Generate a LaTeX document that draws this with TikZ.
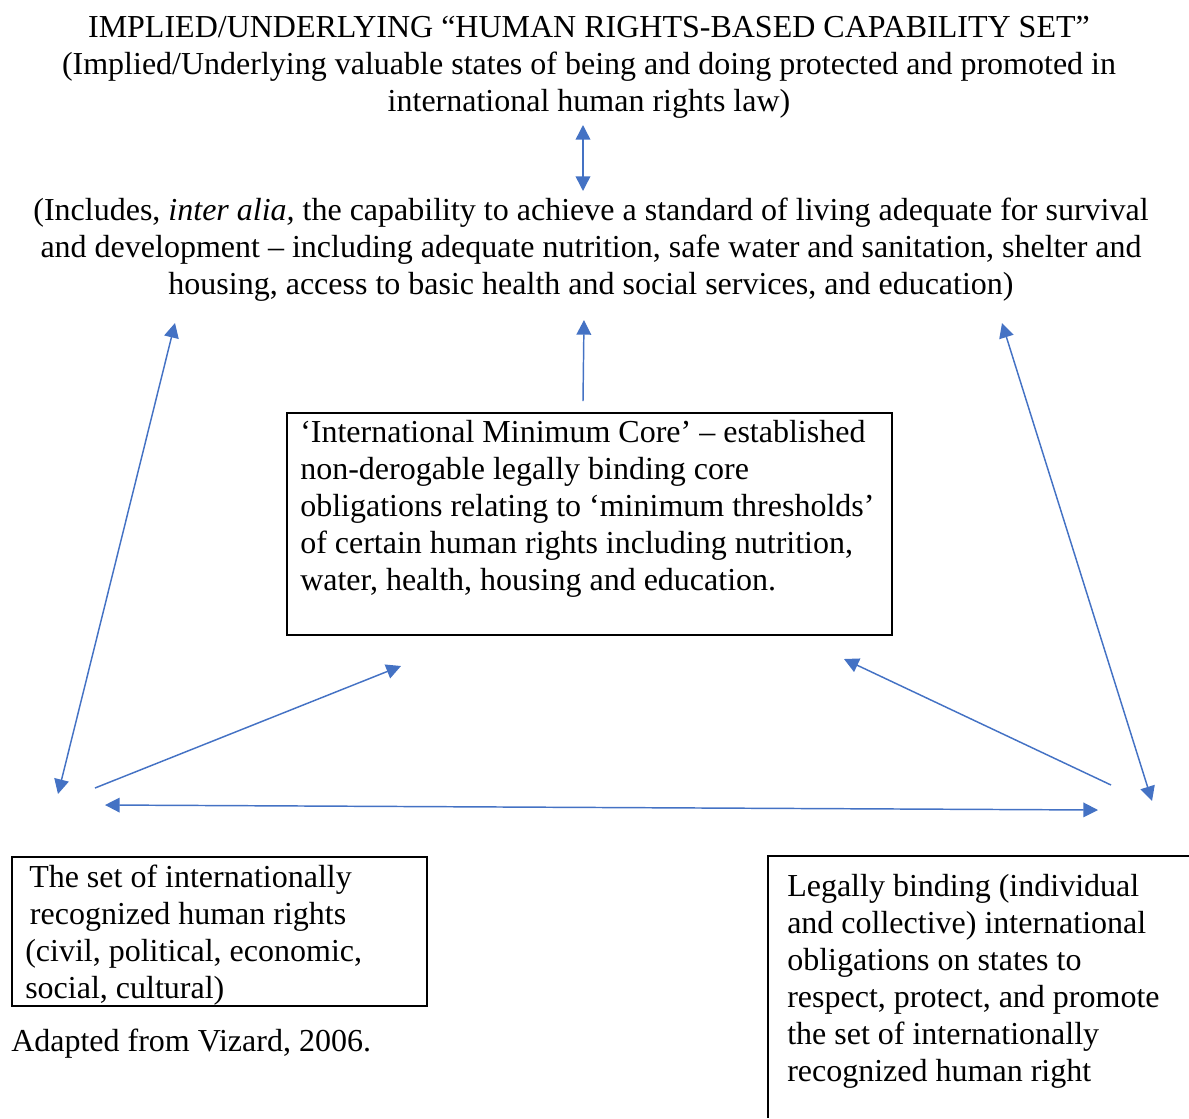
\documentclass[tikz,border=0pt]{standalone}
\usepackage{fontspec}
\setmainfont{Liberation Serif}
\usetikzlibrary{arrows.meta}
\definecolor{linkblue}{HTML}{4472C4}
\begin{document}
\begin{tikzpicture}[x=0.75pt,y=-0.75pt,
  txt/.style={inner sep=0pt, font=\fontsize{24pt}{27.75pt}\selectfont},
  boxframe/.style={draw=black, line width=1.5pt, inner sep=0pt},
  conn/.style={draw=linkblue, line width=1.1pt},
  oneway/.style={conn, -{Triangle[length=11pt,width=11pt]}},
  twoway/.style={conn, {Triangle[length=11pt,width=11pt]}-{Triangle[length=11pt,width=11pt]}}]
\useasboundingbox (0,0) rectangle (1189,1118);

% heading
\node[txt, align=center, anchor=north] (head) at (589,16)
  {IMPLIED/UNDERLYING “HUMAN RIGHTS-BASED CAPABILITY SET”\\
   (Implied/Underlying valuable states of being and doing protected and promoted in\\
   international human rights law)};

% capability description
\node[txt, align=center, anchor=north] (cap) at (591,198)
  {(Includes, \textit{inter alia,} the capability to achieve a standard of living adequate for survival\\
   and development -- including adequate nutrition, safe water and sanitation, shelter and\\
   housing, access to basic health and social services, and education)};

% minimum core box
\node[boxframe, anchor=north west, minimum width=453.75pt, minimum height=166.5pt] (core) at (286,412) {};
\node[txt, align=left, anchor=north west] (coretext) at (300,420)
  {‘International Minimum Core’ -- established\\
   non-derogable legally binding core\\
   obligations relating to ‘minimum thresholds’\\
   of certain human rights including nutrition,\\
   water, health, housing and education.};

% set of rights box
\node[boxframe, anchor=north west, minimum width=311.25pt, minimum height=111.75pt] (rights) at (11,856) {};
\node[txt, align=left, anchor=north west] (rightstext) at (25,865)
  {\hspace*{3pt}The set of internationally\\
   \hspace*{3.5pt}recognized human rights\\
   (civil, political, economic,\\
   social, cultural)};

\node[txt, anchor=north west] (source) at (11,1029) {Adapted from Vizard, 2006.};

% obligations box (open to the right and below)
\coordinate (oblTR) at (1189,856);
\coordinate (oblTL) at (768,856);
\coordinate (oblBL) at (768,1118);
\draw[black, line width=1.2pt] (oblTR) -- (oblTL) -- (oblBL);
\node[txt, align=left, anchor=north west] (obltext) at (787,874)
  {Legally binding (individual\\
   and collective) international\\
   obligations on states to\\
   respect, protect, and promote\\
   the set of internationally\\
   recognized human right};

% connector end points
\coordinate (hA) at (583,125);
\coordinate (hB) at (583,191);
\coordinate (lTop) at (175,323);
\coordinate (lBot) at (58,794);
\coordinate (rTop) at (1002,323);
\coordinate (rBot) at (1152,801);
\coordinate (cTop) at (584,320);
\coordinate (cBot) at (583,401);
\coordinate (llTail) at (95,788);
\coordinate (llHead) at (401,666);
\coordinate (rlTail) at (1111,785);
\coordinate (rlHead) at (844,659);
\coordinate (hzL) at (105,805);
\coordinate (hzR) at (1098,810);

% connectors
\draw[twoway] (hA) -- (hB);
\draw[twoway] (lTop) -- (lBot);
\draw[twoway] (rTop) -- (rBot);
\draw[oneway] (cBot) -- (cTop);
\draw[oneway] (llTail) -- (llHead);
\draw[oneway] (rlTail) -- (rlHead);
\draw[twoway] (hzL) -- (hzR);
\end{tikzpicture}
\end{document}
